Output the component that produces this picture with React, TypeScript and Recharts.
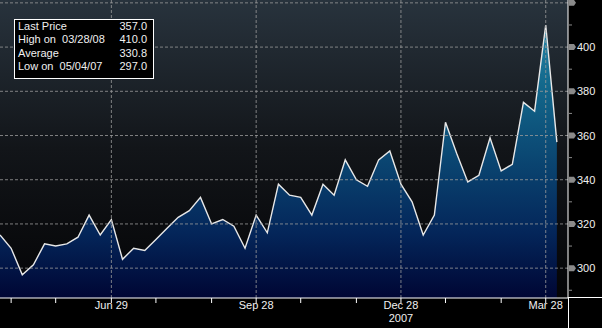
import React from "react";
import {
  AreaChart,
  Area,
  XAxis,
  YAxis,
  CartesianGrid,
  ReferenceLine,
} from "recharts";

//========== Chart Data ==========
const dates = [
  "2007-04-20", "2007-04-27", "2007-05-04", "2007-05-11", "2007-05-18", "2007-05-25",
  "2007-06-01", "2007-06-08", "2007-06-15", "2007-06-22", "2007-06-29",
  "2007-07-06", "2007-07-13", "2007-07-20", "2007-07-27",
  "2007-08-03", "2007-08-10", "2007-08-17", "2007-08-24", "2007-08-31",
  "2007-09-07", "2007-09-14", "2007-09-21", "2007-09-28",
  "2007-10-05", "2007-10-12", "2007-10-19", "2007-10-26",
  "2007-11-02", "2007-11-09", "2007-11-16", "2007-11-23", "2007-11-30",
  "2007-12-07", "2007-12-14", "2007-12-21", "2007-12-28",
  "2008-01-04", "2008-01-11", "2008-01-18", "2008-01-25",
  "2008-02-01", "2008-02-08", "2008-02-15", "2008-02-22", "2008-02-29",
  "2008-03-07", "2008-03-14", "2008-03-21", "2008-03-28", "2008-04-04",
];

const prices = [
  315, 309, 297, 301.5, 311, 310, 311, 314, 324, 315,
  322, 304, 309, 308, 313, 318, 323, 326, 332, 320,
  322, 319, 309, 324, 316, 338, 333, 332, 324, 338,
  333, 349, 340, 337, 349, 353, 338, 330, 315, 324,
  366, 352, 339, 342, 359, 344, 347, 375, 371, 410,
  357,
];

// month-end ticks (index into dates) and their labels
const xTickIdx = [1, 5, 10, 14, 19, 23, 27, 32, 36, 40, 45, 49];
const xTickLabels = ["", "", "Jun 29", "", "", "Sep 28", "", "", "Dec 28", "", "", "Mar 28"];
const xYearLabels = ["", "", "", "", "", "", "", "", "2007", "", "", ""];
const xGridIdx = [10, 23, 36, 49];

const yTicks = [290, 300, 310, 320, 330, 340, 350, 360, 370, 380, 390, 400, 410, 420];
const yLabelTicks = [300, 320, 340, 360, 380, 400];
const yGrid = [300, 320, 340, 360, 380, 400, 420];

const statLabels = ["Last Price", "High on  03/28/08", "Average", "Low on  05/04/07"];
const statValues = ["357.0", "410.0", "330.8", "297.0"];

const data = dates.map((d, i) => ({ i, date: d, price: prices[i] }));

const FONT = "'Liberation Sans', Arial, sans-serif";

//========== Axis Ticks ==========
const XTick = (props: any) => {
  const { x, y, payload } = props;
  const k = xTickIdx.indexOf(payload.value);
  const label = k >= 0 ? xTickLabels[k] : "";
  const year = k >= 0 ? xYearLabels[k] : "";
  return (
    <g>
      {label && (
        <text x={x} y={y + 6} textAnchor="middle" fill="#f0f0f0" fontSize={11} fontFamily={FONT}>
          {label}
        </text>
      )}
      {year && (
        <text x={x} y={y + 19} textAnchor="middle" fill="#f0f0f0" fontSize={11} fontFamily={FONT}>
          {year}
        </text>
      )}
    </g>
  );
};

const YTick = (props: any) => {
  const { x, y, payload } = props;
  const v = payload.value;
  if (v % 20 !== 0) {
    return <line x1={x + 1} x2={x + 4} y1={y} y2={y} stroke="#8a8a8a" strokeWidth={1} />;
  }
  return (
    <g>
      <polygon
        points={`${x + 1},${y - 3} ${x + 6},${y - 3} ${x + 8},${y} ${x + 6},${y + 3} ${x + 1},${y + 3}`}
        fill="#8a8a8a"
      />
      {yLabelTicks.includes(v) && (
        <text x={x + 9} y={y + 4} fill="#f0f0f0" fontSize={11} fontFamily={FONT}>
          {v}
        </text>
      )}
    </g>
  );
};

//========== Price Chart Component ==========
const App: React.FC = () => {
  return (
    <div style={{ position: "relative", width: 602, height: 328, background: "#000" }}>
      <style>{`body{margin:0}`}</style>

      {/*========== Chart ==========*/}
      <AreaChart width={602} height={328} data={data} margin={{ top: 0, right: 0, bottom: 0, left: 0 }}>
        <defs>
          <linearGradient id="plotBg" x1="0" y1="0" x2="0" y2="1">
            <stop offset="0%" stopColor="#28333d" />
            <stop offset="50%" stopColor="#121519" />
            <stop offset="100%" stopColor="#040406" />
          </linearGradient>
          <linearGradient id="areaFill" gradientUnits="userSpaceOnUse" x1="0" y1="0" x2="0" y2="298">
            <stop offset="0%" stopColor="#2a90b0" />
            <stop offset="30%" stopColor="#12668a" />
            <stop offset="55%" stopColor="#0a4470" />
            <stop offset="78%" stopColor="#04265a" />
            <stop offset="100%" stopColor="#000634" />
          </linearGradient>
        </defs>
        <CartesianGrid horizontal={false} vertical={false} fill="url(#plotBg)" stroke="none" />
        <XAxis
          dataKey="i"
          type="number"
          domain={[0, 51]}
          ticks={xTickIdx}
          interval={0}
          height={30}
          tickSize={5}
          tickMargin={0}
          axisLine={{ stroke: "#ffffff" }}
          tickLine={{ stroke: "#ffffff" }}
          tick={<XTick />}
          allowDataOverflow
        />
        <YAxis
          orientation="right"
          domain={[286.5, 421.3]}
          ticks={yTicks}
          interval={0}
          width={34}
          tickSize={0}
          tickMargin={0}
          axisLine={{ stroke: "#ffffff" }}
          tickLine={false}
          tick={<YTick />}
          allowDataOverflow
        />
        <Area
          type="linear"
          dataKey="price"
          stroke="#e8e8e8"
          strokeWidth={1.4}
          fill="url(#areaFill)"
          fillOpacity={1}
          dot={false}
          activeDot={false}
          isAnimationActive={false}
        />
        {yGrid.map((v) => (
          <ReferenceLine key={`h${v}`} y={v} stroke="#9a9a9a" strokeOpacity={0.8} strokeDasharray="3 2" />
        ))}
        {xGridIdx.map((i) => (
          <ReferenceLine key={`v${i}`} x={i} stroke="#9a9a9a" strokeOpacity={0.8} strokeDasharray="3 2" />
        ))}
      </AreaChart>

      {/*========== Axis line extensions ==========*/}
      <div style={{ position: "absolute", left: 568, top: 298, width: 1, height: 30, background: "#fff" }} />
      <div style={{ position: "absolute", left: 568, top: 297, width: 34, height: 1, background: "#fff" }} />

      {/*========== Stats Box ==========*/}
      <div
        style={{
          position: "absolute",
          left: 14,
          top: 19,
          width: 138,
          height: 58,
          background: "#000",
          border: "1px solid #fff",
          fontFamily: FONT,
          fontSize: 11,
          lineHeight: "13.3px",
          color: "#f0f0f0",
          paddingTop: 0,
        }}
      >
        {statLabels.map((lab, k) => (
          <div key={lab} style={{ position: "relative", height: 13.3, whiteSpace: "pre" }}>
            <span style={{ position: "absolute", left: 3 }}>{lab}</span>
            <span style={{ position: "absolute", right: 6 }}>{statValues[k]}</span>
          </div>
        ))}
      </div>
    </div>
  );
};

export default App;
